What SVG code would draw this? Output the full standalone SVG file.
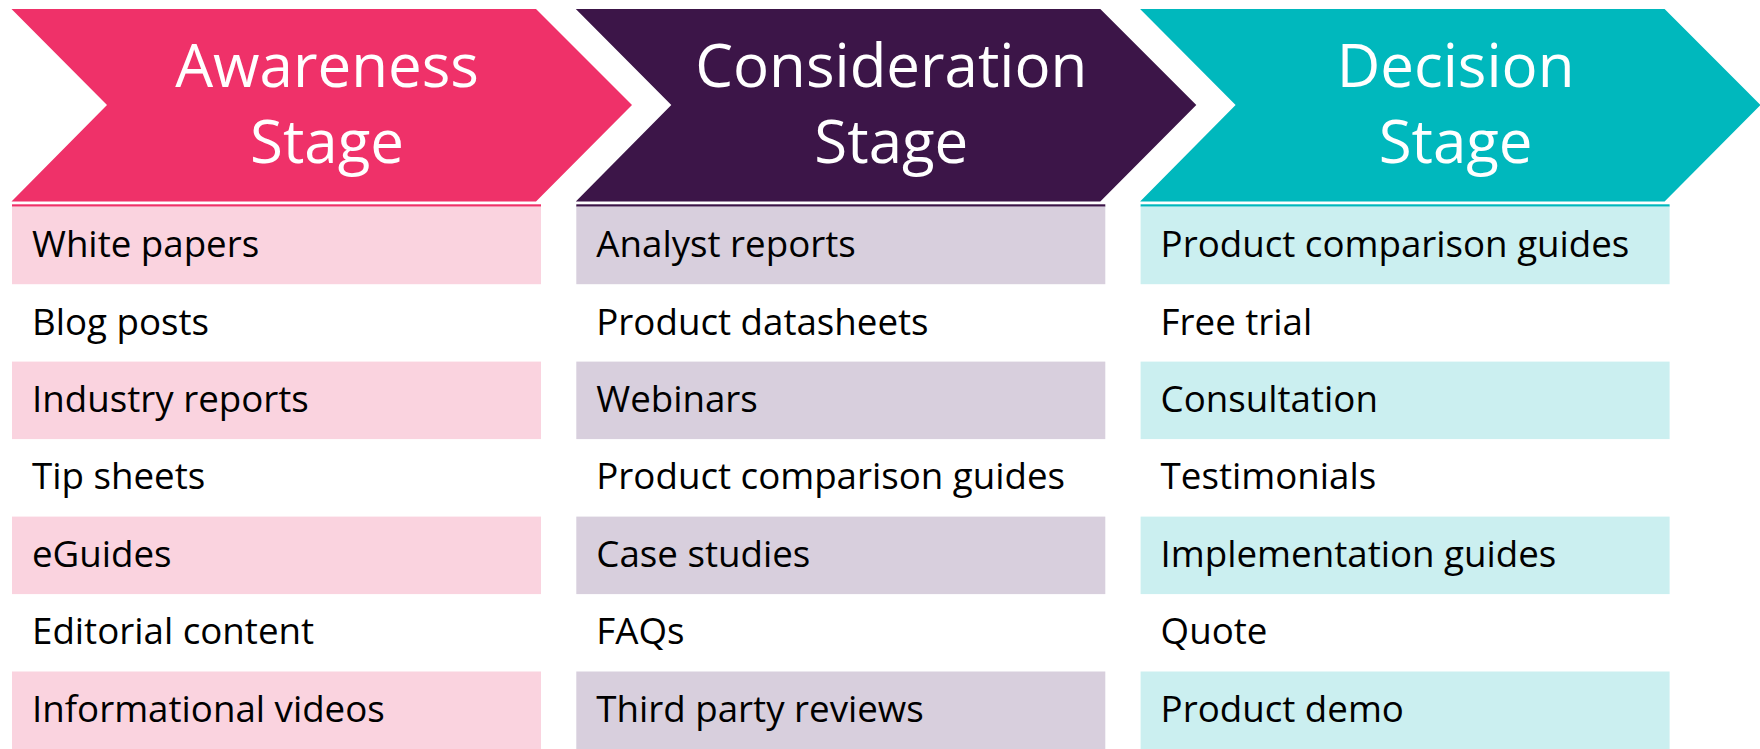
<svg xmlns="http://www.w3.org/2000/svg" width="1760" height="749" viewBox="0 0 1760 749">
  <style>
    .head { font-family: "Open Sans", "Noto Sans", sans-serif; font-size: 60px; fill: #ffffff; text-anchor: middle; }
    .item { font-family: "Open Sans", "Noto Sans", sans-serif; font-size: 36.7px; fill: #000000; }
    .aw { fill: #EF3169; }
    .aw-l { fill: #FAD3DF; }
    .co { fill: #3C1548; }
    .co-l { fill: #D8CFDD; }
    .de { fill: #00B8BD; }
    .de-l { fill: #CBEFF0; }
  </style>
  <defs>
    <!-- chevron shape, 45 degree notch and point -->
    <path id="chev" d="M11.5,9 L536,9 L632,105 L536,201.5 L11.5,201.5 L107,105 Z"/>
  </defs>
  <rect x="0" y="0" width="1760" height="749" fill="#ffffff"/>

  <!-- Awareness stage -->
  <g id="awareness">
    <use href="#chev" class="aw"/>
    <text class="head" x="327" y="87">Awareness</text>
    <text class="head" x="327" y="163">Stage</text>
    <rect class="aw" x="12" y="204.3" width="529" height="2.4"/>
    <rect class="aw-l" x="12" y="206.7" width="529" height="77.5"/>
    <rect class="aw-l" x="12" y="361.6" width="529" height="77.5"/>
    <rect class="aw-l" x="12" y="516.6" width="529" height="77.5"/>
    <rect class="aw-l" x="12" y="671.5" width="529" height="77.5"/>
    <text class="item" x="32" y="257">White papers</text>
    <text class="item" x="32" y="334.5">Blog posts</text>
    <text class="item" x="32" y="412">Industry reports</text>
    <text class="item" x="32" y="489.4">Tip sheets</text>
    <text class="item" x="32" y="566.9">eGuides</text>
    <text class="item" x="32" y="644.3">Editorial content</text>
    <text class="item" x="32" y="721.8">Informational videos</text>
  </g>

  <!-- Consideration stage -->
  <g id="consideration" transform="translate(564.3,0)">
    <use href="#chev" class="co"/>
    <text class="head" x="327" y="87">Consideration</text>
    <text class="head" x="327" y="163">Stage</text>
    <rect class="co" x="12" y="204.3" width="529" height="2.4"/>
    <rect class="co-l" x="12" y="206.7" width="529" height="77.5"/>
    <rect class="co-l" x="12" y="361.6" width="529" height="77.5"/>
    <rect class="co-l" x="12" y="516.6" width="529" height="77.5"/>
    <rect class="co-l" x="12" y="671.5" width="529" height="77.5"/>
    <text class="item" x="32" y="257">Analyst reports</text>
    <text class="item" x="32" y="334.5">Product datasheets</text>
    <text class="item" x="32" y="412">Webinars</text>
    <text class="item" x="32" y="489.4">Product comparison guides</text>
    <text class="item" x="32" y="566.9">Case studies</text>
    <text class="item" x="32" y="644.3">FAQs</text>
    <text class="item" x="32" y="721.8">Third party reviews</text>
  </g>

  <!-- Decision stage -->
  <g id="decision" transform="translate(1128.6,0)">
    <use href="#chev" class="de"/>
    <text class="head" x="327" y="87">Decision</text>
    <text class="head" x="327" y="163">Stage</text>
    <rect class="de" x="12" y="204.3" width="529" height="2.4"/>
    <rect class="de-l" x="12" y="206.7" width="529" height="77.5"/>
    <rect class="de-l" x="12" y="361.6" width="529" height="77.5"/>
    <rect class="de-l" x="12" y="516.6" width="529" height="77.5"/>
    <rect class="de-l" x="12" y="671.5" width="529" height="77.5"/>
    <text class="item" x="32" y="257">Product comparison guides</text>
    <text class="item" x="32" y="334.5">Free trial</text>
    <text class="item" x="32" y="412">Consultation</text>
    <text class="item" x="32" y="489.4">Testimonials</text>
    <text class="item" x="32" y="566.9">Implementation guides</text>
    <text class="item" x="32" y="644.3">Quote</text>
    <text class="item" x="32" y="721.8">Product demo</text>
  </g>

  <!-- no connectors in this layout -->
  <g id="connectors"/>
</svg>
